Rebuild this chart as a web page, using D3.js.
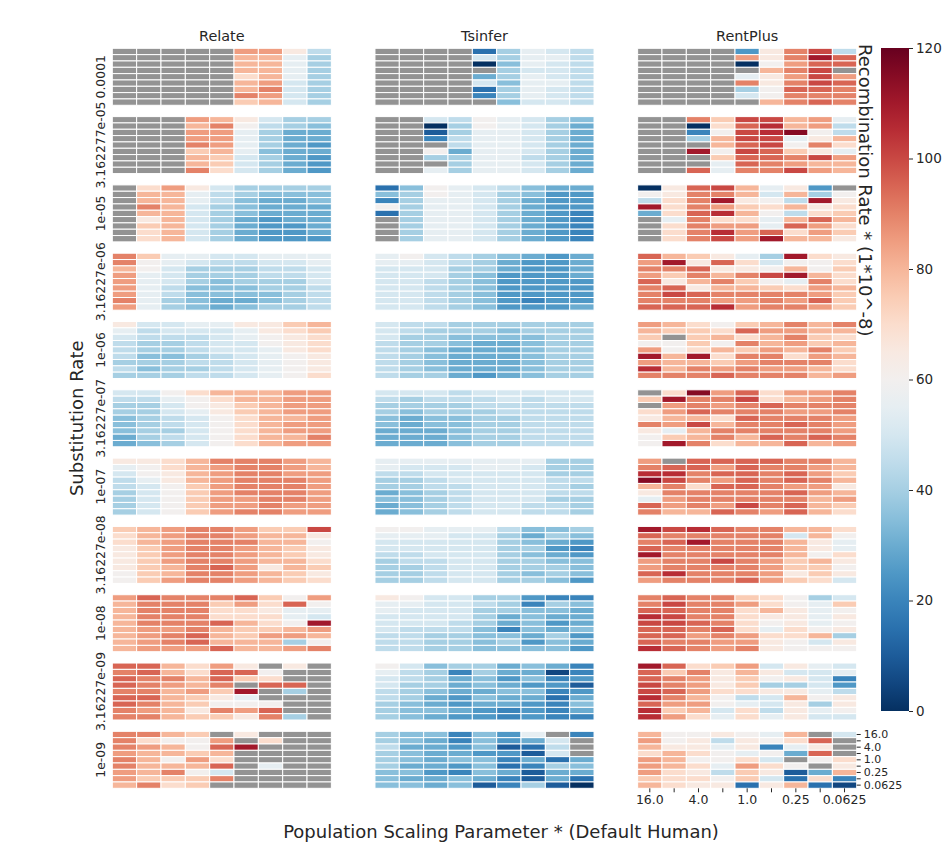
<!DOCTYPE html>
<html>
<head>
<meta charset="utf-8">
<script src="https://cdn.jsdelivr.net/npm/d3@7"></script>
<style>
  body { margin: 0; background: #fff; }
  text { font-family: "DejaVu Sans", sans-serif; fill: #262626; }
</style>
</head>
<body>
<script>
const methods = ["Relate", "Tsinfer", "RentPlus"];
const substitutionRates = ["0.0001", "3.162277e-05", "1e-05", "3.16227e-06", "1e-06",
  "3.16227e-07", "1e-07", "3.16227e-08", "1e-08", "3.16227e-09", "1e-09"];
const popScaling = ["16.0", "8.0", "4.0", "2.0", "1.0", "0.5", "0.25", "0.125", "0.0625"];
const popTickLabels = ["16.0", "", "4.0", "", "1.0", "", "0.25", "", "0.0625"];
const colorTicks = [0, 20, 40, 60, 80, 100, 120];

// recombination rate per cell, one letter per cell: A=0, B=5, C=10 ... Y=120, "." = no value
// each panel: rows top->bottom (16.0 .. 0.0625), cols left->right (16.0 .. 0.0625)
const relate = [
  [".....RRNJ", ".....QQLI", ".....QQLI", ".....QQLI", ".....OQLI", ".....QRKI", ".....QSKI", ".....SRKI", ".....PQKI"],
  ["...RQNKII", "...QSMJIH", "...RRLIGG", "...RRLIGG", "...SRLIGF", "...PQLHGG", "...QPKIGF", "...QPKIGF", "...SOKIGF"],
  [".ORNKIIII", ".QQLJIHHH", ".QQLJHGGH", ".SQKIHGGG", ".QQKIHGGG", ".NQKIGFGG", ".PQKIGFFG", ".OQKIGFFG", ".OQKIGFFF"],
  ["SPLLKKLLL", "SMLKJJKKL", "QMKIIIJJK", "RLKIIIJJK", "RLKIHIIIK", "RLJHHHIIJ", "RLJHHHHIJ", "SLIHGGHIJ", "RLIHGHIIJ"],
  ["NKKLLNNPQ", "LJKKKLNOP", "KJJJKLMNO", "JIIJKKMNO", "JIIJKKLNO", "JHHIJKLMN", "IIIJJKLMN", "JHIIJKLMN", "IIIJJKLMO"],
  ["KKMOQQQRR", "JJLMOQQRR", "IIKMNPQRR", "IIKLNPQRR", "HIJKMOQQR", "HIJKMOQRR", "HIIKMOQRR", "GIJKMOQQS", "GHIKMOQRR"],
  ["NNOQSSSRQ", "LMOQRSSRQ", "KMNQRSSRR", "JLNQRSSSR", "JKMPRSSSR", "IKMPRSSSR", "IKMPRRSSR", "IKMPRRSRR", "IKMPRSSRR"],
  ["PQRSSRPPU", "OQRSSRQQN", "OQRSSSQQM", "NPRSSRQPN", "NPRSSRQPN", "NPRSSRQQO", "NPQSTRNQP", "MPQSSRQPN", "MPRSSRQPO"],
  ["RTSSSTPMR", "QSSSPROTM", "QSSSOONLL", "QSSSOOOLK", "QSSSTQOMW", "QRRSQPPQR", "QRSTQPRRQ", "QRSTQQQIM", "QRRRTQQRS"],
  ["TTQORN.N.", "STQOTTM..", "TSSQTPO..", "TSRQS.TT.", "SSQRPW.I.", "TTQPNL...", "TSQPMMM..", "SRQNSRT..", "SSQPPNSI."],
  ["SSQP.N...", "SOMMR.O..", "SRQMTW...", "RQQPQ....", "SQMRO....", "SQQQT.L..", "RQSMK....", "RPPPS....", "QSOP....."]
];
const tsinfer = [
  ["....DILKJ", "....KILLJ", "....AHLKJ", ".....IKKJ", "....GILKJ", "....KHLLJ", "....DILKJ", "....EILKJ", ".....HKKJ"],
  ["..KJMLKIH", "..AIMLKIG", "..CILLKIG", "..EJLLKIG", "...JLLKIG", "..MGLLKIG", "..IILLJIG", "...ILLKIG", "..LILLKIG"],
  ["DHMLKJHGG", "HIMLKIHFF", "EILLKIGFF", "MILLKIGFF", "DILLKIGFE", ".ILLKIGFE", ".ILLKIGFE", ".ILLKIGFE", ".ILLKIGFE"],
  ["LMKJIHGFG", "LLKJIGFFG", "KKKIIGFFG", "KKKIHFFFG", "KKJIHFFFF", "KKJIHFFFF", "KKJIHFFFF", "KKJIHFEFF", "KKJIHFFFG"],
  ["KJJIIIIII", "KJIIIHIII", "KIIHHHHII", "JIIHGGHII", "JIHGGGHII", "JIHGGGHII", "JIHGGGHII", "JIHGGGHII", "JIIGFGHII"],
  ["KKKJKKKKK", "JIJJJKJKK", "IIIIJJJJJ", "IHIIIJJJJ", "HGHHIIJJJ", "HGHHIIJJJ", "GGGHIIJJJ", "GGGHIIJJJ", "GGGHIIJJJ"],
  ["LLLLLLLII", "LKKKLLKII", "JJKKKKKII", "IIJKKKKJJ", "IIJJKKKJI", "GHIJKKKJJ", "HHIJKKKII", "GHIJKKJJI", "GHIJKKJJI"],
  ["MMLLLJHHI", "LLLKKIGIH", "KKKKKIHGF", "KKKKKIIFE", "JJKKKIHGF", "IJJKKIIHH", "IIJKKIIIH", "IIJKKIHIH", "IIJKKIIHF"],
  ["NMKKIIFEE", "LLKKJIEIH", "LKKKIIHHG", "KKKKIGHGG", "KKKJIGHFG", "KJJJHEHGH", "JJIIHHGIF", "JJIIHIFHG", "JJIIHHHHF"],
  ["MKHIIGHGE", "LJIEIGGBE", "KJIGHFHEF", "KIIGHGFFC", "JIHGGHHEF", "JIGFHGGDG", "IHGFGGFEH", "IHHGFEFEG", "IHGFFEFEE"],
  ["IHHEHFL.E", "IHGEHFGK.", "JGGFHCDJ.", "IHGGFFCK.", "IHGHHEGDG", "IGGFHDEIH", "HHFEHGCGG", "HGGHGECGD", "HHGHCEICA"]
];
const rentplus = [
  ["....FNSUJ", "....RNSWT", "....AMRTT", ".....QSU.", "....LNRUR", "....SNSUT", "....IMTTS", "....KMSSS", ".....QSTS"],
  ["..SPUUQRL", "..AOTVQRJ", "..EMUVXMJ", "..IQUULNQ", "...QTUMSO", "..WMUTPNL", "...PTTSUR", "...LTSRQQ", "..TLSSURQ"],
  ["ANTUQLNF.", "MNSSQKQIM", "JOSWNMJWN", "WOSRPOQNO", "GOTVQMJOP", ".LSOOLQTQ", ".OSRRLTRO", ".OSVRTORP", ".OSURWQQN"],
  ["TQPNLIWON", "RWNTOKMMO", "SSTNNMQMP", "RPSQSUWQO", "TNQSPMLSO", "STNQQPORQ", "SUTSSSSRP", "SSSRRSRTP", "TTTVRSSRP"],
  ["RQOMPQSQS", "QPPOTRRQQ", "P.PQOQSPO", "MMPMSQRPQ", "RMOQPRQSP", "WQWOSSORQ", "RQQPRSSSO", "VQSRSRRQO", "SSSTSSSQR"],
  [".OXRTORRS", "PWSSUOQRS", ".RSRSTSSS", "ORTSSSRRS", "NQQOTSSSR", "SRUQSSTSR", "NLQSSSSSR", "MPQSQTSTS", "MWSOQQTQR"],
  ["R.TTTTSSQ", "STTRTSSRQ", "VVSTTSTRP", "XUSRTSTSQ", "QSOTTSRRN", "NSSSSSTRQ", "LRSSSSSQR", "TRSRUSTQP", "SQQTSRTQO"],
  ["WUVTSSQQO", "TSSSSSKQM", "STWSSSQNL", "TSSSSSQNL", "WSSSSSQMO", "RSSUSRPQN", "RSSSSRPPM", "TVSSSRNPN", "RSSSTRPOK"],
  ["STSSPOMIK", "SUSSROMLP", "TTSSOQNLM", "VUSSONNLN", "UUTSOMNLM", "TTSTOLOMN", "TTRSROOQI", "TSSRRNMKN", "VTSRSNMMM"],
  ["WTOPRKNLK", "TPSNQNKKL", "TSRNPMNKE", "USRNPIIKF", "UTROONNLJ", "VSQMJKQMN", "TRRMLKNIN", "VPQKOJNLM", "VROLOLNKK"],
  ["QMMNMLQ.K", "RMNJNMOT.", "QNNLNELN.", "OQOMLMGT.", "RQMMOK.MO", "RQOLROM.N", "RONJPNCGQ", "POOMPKDOE", "QONNDNQDB"]
];

const panelData = { Relate: relate, Tsinfer: tsinfer, RentPlus: rentplus };
const decode = s => Array.from(s, c => (c === "." ? null : (c.charCodeAt(0) - 65) * 5));

const width = 951, height = 850;
const svg = d3.select("body").append("svg")
  .attr("width", width).attr("height", height);

const color = d3.scaleSequential(t => d3.interpolateRdBu(1 - t)).domain([0, 120]);
const missing = "#939393";

// panel grid
const col = d3.scaleBand().domain(methods).range([112.3, 856.7]).paddingInner(0.166);
const row = d3.scaleBand().domain(substitutionRates).range([48.3, 788.3]).paddingInner(0.166);
const x = d3.scaleBand().domain(popScaling).range([0, col.bandwidth()]);
const y = d3.scaleBand().domain(popScaling).range([0, row.bandwidth()]);

methods.forEach(m => {
  substitutionRates.forEach((r, i) => {
    const g = svg.append("g")
      .attr("transform", `translate(${col(m)},${row(r)})`);
    const cells = [];
    panelData[m][i].forEach((line, j) => {
      decode(line).forEach((v, k) => cells.push({ r: popScaling[j], c: popScaling[k], v }));
    });
    g.selectAll("rect").data(cells).join("rect")
      .attr("x", d => x(d.c))
      .attr("y", d => y(d.r))
      .attr("width", x.bandwidth())
      .attr("height", y.bandwidth())
      .attr("fill", d => (d.v === null ? missing : color(d.v)))
      .attr("stroke", "#fff")
      .attr("stroke-width", 1);
  });

  svg.append("text")
    .attr("x", col(m) + col.bandwidth() / 2)
    .attr("y", 41)
    .attr("text-anchor", "middle")
    .style("font-size", "14.4px")
    .text(m);
});

// substitution rate labels
substitutionRates.forEach(r => {
  svg.append("text")
    .attr("transform", `translate(105,${row(r) + row.bandwidth() / 2}) rotate(-90)`)
    .attr("text-anchor", "middle")
    .style("font-size", "12.4px")
    .text(r);
});

// axes on bottom-right panel
const last = substitutionRates[substitutionRates.length - 1];
const brX = col("RentPlus"), brY = row(last);
const xAxis = svg.append("g")
  .attr("transform", `translate(${brX},${brY + row.bandwidth()})`)
  .call(d3.axisBottom(x).tickSize(4).tickFormat((d, i) => popTickLabels[i]));
const yAxis = svg.append("g")
  .attr("transform", `translate(${brX + col.bandwidth()},${brY})`)
  .call(d3.axisRight(y).tickSize(4).tickFormat((d, i) => popTickLabels[i]));
[xAxis, yAxis].forEach(a => {
  a.select(".domain").remove();
  a.selectAll("line").attr("stroke", "#262626");
  a.selectAll("text").attr("fill", "#262626");
});
xAxis.selectAll("text").style("font-size", "12.5px");
yAxis.selectAll("text").style("font-size", "11px");

// axis titles
svg.append("text")
  .attr("transform", "translate(83,418.3) rotate(-90)")
  .attr("text-anchor", "middle")
  .style("font-size", "18px")
  .text("Substitution Rate");
svg.append("text")
  .attr("x", 501).attr("y", 838)
  .attr("text-anchor", "middle")
  .style("font-size", "18px")
  .text("Population Scaling Parameter * (Default Human)");

// colorbar
const cb = d3.scaleLinear().domain([0, 120]).range([711, 48]);
const grad = svg.append("defs").append("linearGradient")
  .attr("id", "cbgrad").attr("x1", 0).attr("y1", 1).attr("x2", 0).attr("y2", 0);
d3.range(0, 121, 5).forEach(v => {
  grad.append("stop").attr("offset", v / 120).attr("stop-color", color(v));
});
svg.append("rect")
  .attr("x", 881).attr("y", cb(120))
  .attr("width", 28).attr("height", cb(0) - cb(120))
  .attr("fill", "url(#cbgrad)");
const cbAxis = svg.append("g")
  .attr("transform", "translate(909,0)")
  .call(d3.axisRight(cb).tickValues(colorTicks).tickSize(4).tickFormat(d3.format("d")));
cbAxis.select(".domain").remove();
cbAxis.selectAll("line").attr("stroke", "#262626");
cbAxis.selectAll("text").style("font-size", "13.5px").attr("fill", "#262626");

svg.append("text")
  .attr("transform", "translate(859,44) rotate(90)")
  .attr("text-anchor", "start")
  .style("font-size", "18px")
  .text("Recombination Rate * (1*10^-8)");
</script>
</body>
</html>
